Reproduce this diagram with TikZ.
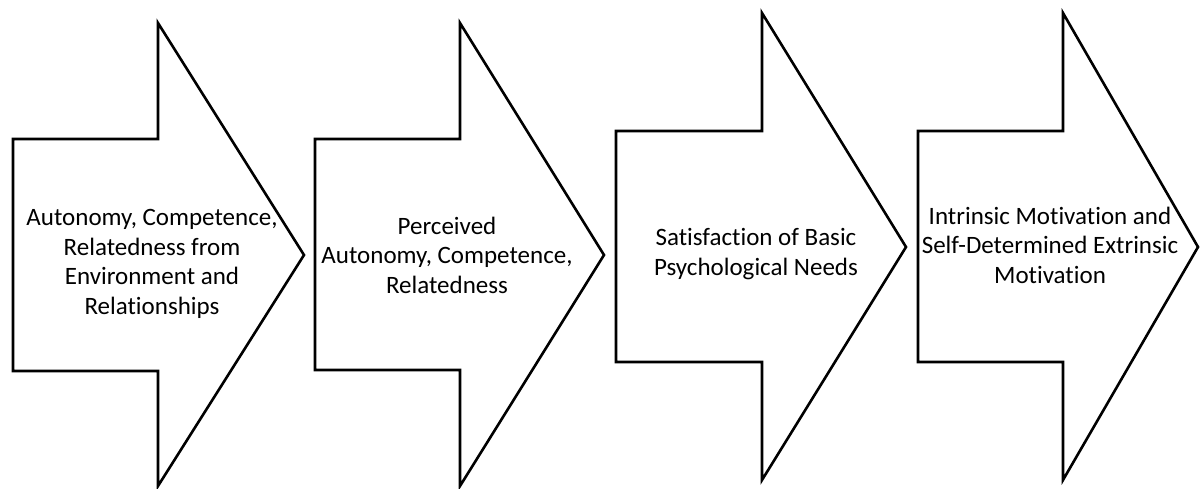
\documentclass[tikz,border=0pt]{standalone}
\usepackage{fontspec}
\setmainfont{Carlito}[Ligatures={NoCommon}]
\begin{document}
\begin{tikzpicture}[x=1pt,y=-1pt,
  arrowshape/.style={draw=black,line width=2.6pt,fill=white,line join=miter},
  label/.style={align=center,font=\fontsize{25}{29.5}\selectfont,inner sep=0pt}]
\useasboundingbox (0,0) rectangle (1201,488);
% arrow 1
\draw[arrowshape] (13,139) -- (158,139) -- (158,23) -- (304,255) -- (158,486) -- (158,371) -- (13,371) -- cycle;
% arrow 2
\draw[arrowshape] (315,139) -- (460,139) -- (460,23) -- (604,255) -- (460,486) -- (460,370) -- (315,370) -- cycle;
% arrow 3
\draw[arrowshape] (616,131) -- (762,131) -- (762,13) -- (906,247) -- (762,480) -- (762,362) -- (616,362) -- cycle;
% arrow 4
\draw[arrowshape] (918,131) -- (1063,131) -- (1063,13) -- (1198,247) -- (1063,480) -- (1063,362) -- (918,362) -- cycle;
\node[label] (a1) at (152,264) {Autonomy, Competence,\\Relatedness from\\Environment and\\Relationships};
\node[label] (a2) at (447,255) {Perceived\\Autonomy, Competence,\\Relatedness};
\node[label] (a3) at (756,254) {Satisfaction of Basic\\Psychological Needs};
\node[label] (a4) at (1050,245) {Intrinsic Motivation and\\Self-Determined Extrinsic\\Motivation};
\end{tikzpicture}
\end{document}
